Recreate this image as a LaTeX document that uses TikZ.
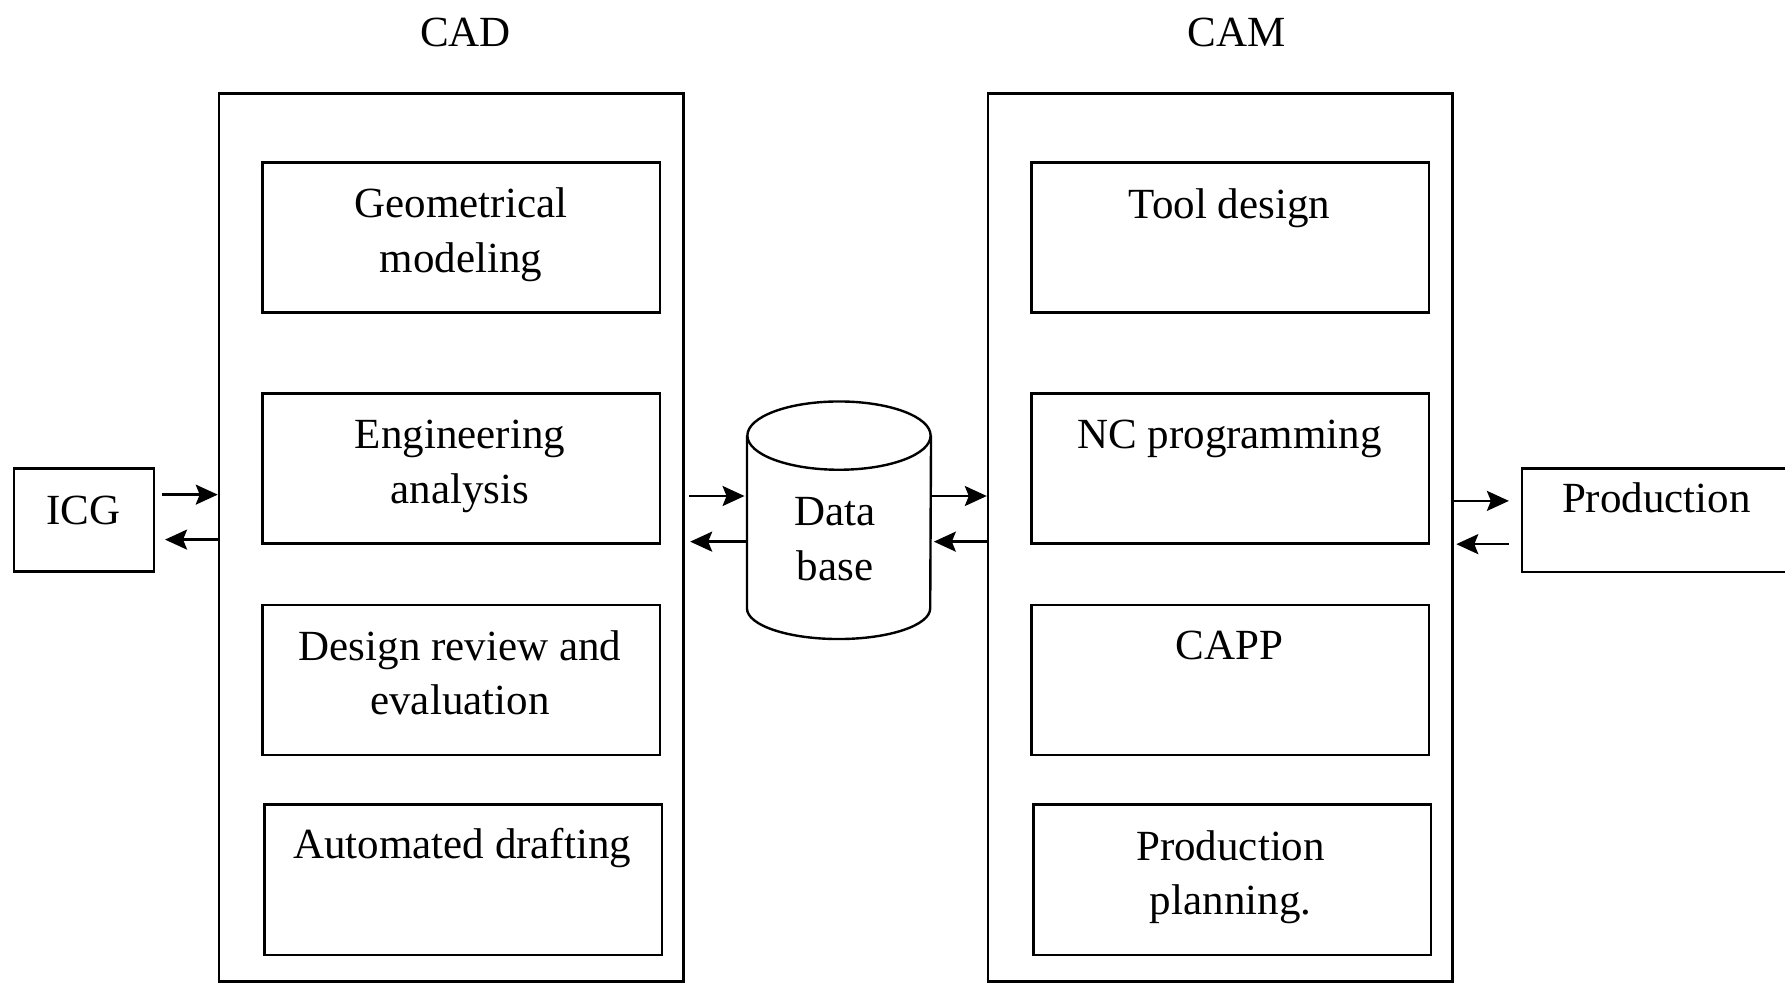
\documentclass[tikz,border=0pt]{standalone}
\usepackage{fontspec}
\setmainfont{Liberation Serif}
\usetikzlibrary{arrows.meta, calc, positioning}

\newcommand{\pxu}{0.02cm}

\tikzset{
  grosbloc/.style={draw, line width=1.2pt, inner sep=0pt, minimum width=408*\pxu, minimum height=780*\pxu},
  petitbloc/.style={draw, line width=1.2pt, inner sep=0pt, minimum width=349*\pxu, minimum height=132*\pxu},
  texte/.style={anchor=base, align=center, inner sep=0pt},
  flux/.style={-{Stealth[length=11pt, width=10pt, inset=2pt]}, line width=1.2pt}
}

\begin{document}
\begin{tikzpicture}[x=0.02cm, y=-0.02cm,
  every node/.style={font=\fontsize{21.5}{27.3}\selectfont}]

  \useasboundingbox (0,0) rectangle (1568,863.5);

  % === CAD ===
  \node[grosbloc] (cad) at (396.3,472) {};
  \node[texte] (cadtitre) at (409,41) {CAD};

  % (base = derniere ligne)
  \node[petitbloc] (geo) at (405,208.6) {};
  \node[texte] (geotxt) at (405,239) {Geometrical\\modeling};

  \node[petitbloc] (eng) at (405,411.5) {};
  \node[texte] (engtxt) at (404,442) {Engineering\\analysis};

  \node[petitbloc] (rev) at (405,597.3) {};
  \node[texte] (revtxt) at (404,627.8) {Design review and\\evaluation};

  \node[petitbloc] (auto) at (407,772.8) {};
  \node[texte] (autotxt) at (406,753.7) {Automated drafting};

  % === CAM ===
  \node[grosbloc] (cam) at (1071.9,472) {};
  \node[texte] (camtitre) at (1086,41) {CAM};

  \node[petitbloc] (outil) at (1080.5,208.6) {};
  \node[texte] (outiltxt) at (1080,192) {Tool design};

  \node[petitbloc] (nc) at (1080.5,411.5) {};
  \node[texte] (nctxt) at (1080,394.4) {NC programming};

  \node[petitbloc] (capp) at (1080.5,597.3) {};
  \node[texte] (capptxt) at (1080,579.5) {CAPP};

  \node[petitbloc] (plan) at (1082.5,772.8) {};
  \node[texte] (plantxt) at (1081,803.5) {Production\\planning.};

  % === ICG / Production ===
  \node[draw, line width=1.2pt, inner sep=0pt, minimum width=123*\pxu, minimum height=90.5*\pxu] (icg) at (74,456.7) {};
  \node[texte] (icgtxt) at (73,461) {ICG};

  \node[draw, line width=1.2pt, inner sep=0pt, minimum width=236.6*\pxu, minimum height=90.8*\pxu] (prod) at (1455,456.8) {};
  \node[texte] (prodtxt) at (1455,450.3) {Production};

  % === Base de donnees ===
  \node[inner sep=0pt, minimum width=161*\pxu, minimum height=151*\pxu] (db) at (737,458.5) {};
  \draw[line width=1.2pt] (db.north west) -- (db.south west)
    arc[start angle=180, end angle=360, x radius=1.61cm, y radius=0.54cm] -- (db.north east);
  \draw[line width=1.2pt] (db.north) ellipse [x radius=1.61cm, y radius=0.6cm];
  \node[texte] (dbtxt) at (733.5,509.5) {Data\\base};

  % === Fleches ===
  \coordinate (yA) at (0,434.5);
  \coordinate (yB) at (0,474);
  \coordinate (yC) at (0,435.7);
  \coordinate (yD) at (0,475.8);
  \coordinate (yE) at (0,440);
  \coordinate (yF) at (0,478);

  \draw[flux, shorten <=3.4pt] (icg.east |- yA) -- (cad.west |- yA);
  \draw[flux, shorten >=4.8pt] (cad.west |- yB) -- (icg.east |- yB);

  \draw[flux, shorten <=2.3pt, shorten >=1.2pt] (cad.east |- yC) -- (db.west |- yC);
  \draw[flux, shorten >=2.8pt] (db.west |- yD) -- (cad.east |- yD);
  \draw[flux] (db.east |- yC) -- (cam.west |- yC);
  \draw[flux, shorten >=1.4pt] (cam.west |- yD) -- (db.east |- yD);

  \draw[flux, shorten >=5.8pt] (cam.east |- yE) -- (prod.west |- yE);
  \draw[flux, shorten <=5.8pt, shorten >=1.3pt] (prod.west |- yF) -- (cam.east |- yF);

\end{tikzpicture}
\end{document}
